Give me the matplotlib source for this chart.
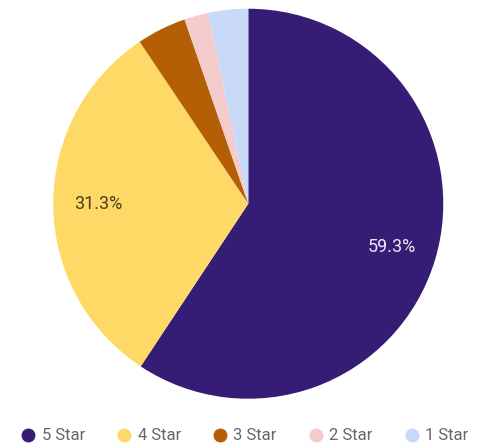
import matplotlib
matplotlib.use("Agg")
import matplotlib.pyplot as plt
from matplotlib.lines import Line2D

labels = ["5 Star", "4 Star", "3 Star", "2 Star", "1 Star"]
shares = [59.3, 31.3, 4.1, 2.0, 3.3]
colors = ["#351c75", "#ffd966", "#b45f06", "#f4cccc", "#c9daf8"]
label_colors = ["#ece8f7", "#4a3f1a", "#ffffff", "#333333", "#333333"]


def fmt(pct):
    return f"{pct:.1f}%" if pct >= 10 else ""


def main() -> None:
    plt.rcParams["font.family"] = ["Roboto", "DejaVu Sans"]
    fig = plt.figure(figsize=(4.8, 4.48), dpi=100)
    ax = fig.add_axes([0.111, 0.110, 0.8125, 0.8705])

    wedges, texts, autotexts = ax.pie(
        shares,
        colors=colors,
        startangle=90,
        counterclock=False,
        autopct=fmt,
        pctdistance=0.77,
        textprops={"fontsize": 13},
        wedgeprops={"linewidth": 0},
    )
    for t, c in zip(autotexts, label_colors):
        t.set_color(c)

    ax.set_xlim(-1.0, 1.0)
    ax.set_ylim(-1.0, 1.0)
    ax.set_aspect("auto")
    ax.axis("off")

    handles = [
        Line2D([], [], marker="o", linestyle="", markersize=9,
               markerfacecolor=c, markeredgecolor=c)
        for c in colors
    ]
    fig.legend(
        handles, labels,
        loc="center left",
        bbox_to_anchor=(0.042, 0.027),
        ncol=5,
        frameon=False,
        fontsize=12,
        labelcolor="#666666",
        handletextpad=0.3,
        columnspacing=1.85,
        handlelength=1.0,
        borderaxespad=0,
        borderpad=0,
    )

    fig.savefig("out.png", dpi=100)


if __name__ == "__main__":
    main()
